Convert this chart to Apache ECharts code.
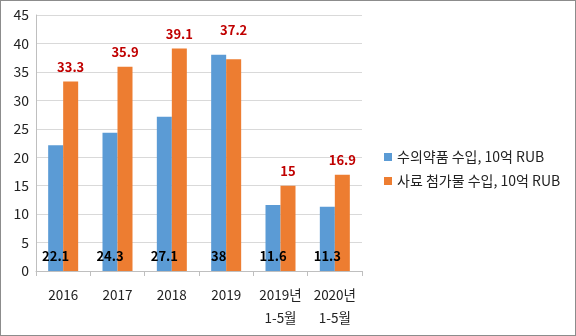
<!DOCTYPE html>
<html>
<head>
<meta charset="utf-8">
<script src="https://cdn.jsdelivr.net/npm/echarts@6/dist/echarts.min.js"></script>
<style>
  html, body { margin: 0; padding: 0; background: #fff; }
  #chart { width: 576px; height: 336px; box-sizing: border-box; border: 1px solid #8c8c8c; }
</style>
</head>
<body>
<div id="chart"></div>
<script>
// Import values, billion RUB
const categories = ['2016', '2017', '2018', '2019', '2019년\n1-5월', '2020년\n1-5월'];
const vetDrugs = [22.1, 24.3, 27.1, 38, 11.6, 11.3];
const feedAdditives = [33.3, 35.9, 39.1, 37.2, 15, 16.9];
const seriesNames = ['수의약품 수입, 10억 RUB', '사료 첨가물 수입, 10억 RUB'];
const yTicks = { min: 0, max: 45, interval: 5 };

const fontFamily = '"Noto Sans CJK KR", "Noto Sans", sans-serif';
const chart = echarts.init(document.getElementById('chart'), null, { renderer: 'canvas' });

// Lift the 2019 feed label clear of the taller neighbouring bar
const feedData = feedAdditives.map((v, i) =>
  i === 3 ? { value: v, label: { offset: [0, -15] } } : v
);

chart.setOption({
  animation: false,
  textStyle: { fontFamily },
  grid: { left: 35, right: 213, top: 14, bottom: 64 },
  legend: {
    orient: 'vertical',
    left: 378,
    top: 144,
    itemWidth: 8,
    itemHeight: 8,
    itemGap: 10,
    icon: 'rect',
    textStyle: { fontSize: 14, color: '#222', fontFamily }
  },
  xAxis: {
    type: 'category',
    data: categories,
    axisLine: { lineStyle: { color: '#bfbfbf' } },
    axisTick: { show: true, length: 5, lineStyle: { color: '#bfbfbf' } },
    axisLabel: { color: '#222', fontSize: 13.5, margin: 12, lineHeight: 23, interval: 0 }
  },
  yAxis: {
    type: 'value',
    min: yTicks.min,
    max: yTicks.max,
    interval: yTicks.interval,
    axisLine: { show: true, lineStyle: { color: '#bfbfbf' } },
    axisTick: { show: false },
    axisLabel: { color: '#222', fontSize: 14, margin: 7 },
    splitLine: { lineStyle: { color: '#d9d9d9' } }
  },
  series: [
    {
      name: seriesNames[0],
      type: 'bar',
      data: vetDrugs,
      barWidth: 15,
      barGap: '0%',
      itemStyle: { color: '#5b9bd5' },
      label: {
        show: true,
        position: 'insideBottom',
        distance: 8,
        color: '#000',
        fontWeight: 'bold',
        fontSize: 13,
        fontFamily
      }
    },
    {
      name: seriesNames[1],
      type: 'bar',
      data: feedData,
      barWidth: 15,
      itemStyle: { color: '#ed7d31' },
      label: {
        show: true,
        position: 'top',
        distance: 8,
        color: '#c00000',
        fontWeight: 'bold',
        fontSize: 13,
        fontFamily
      }
    }
  ]
});
</script>
</body>
</html>
